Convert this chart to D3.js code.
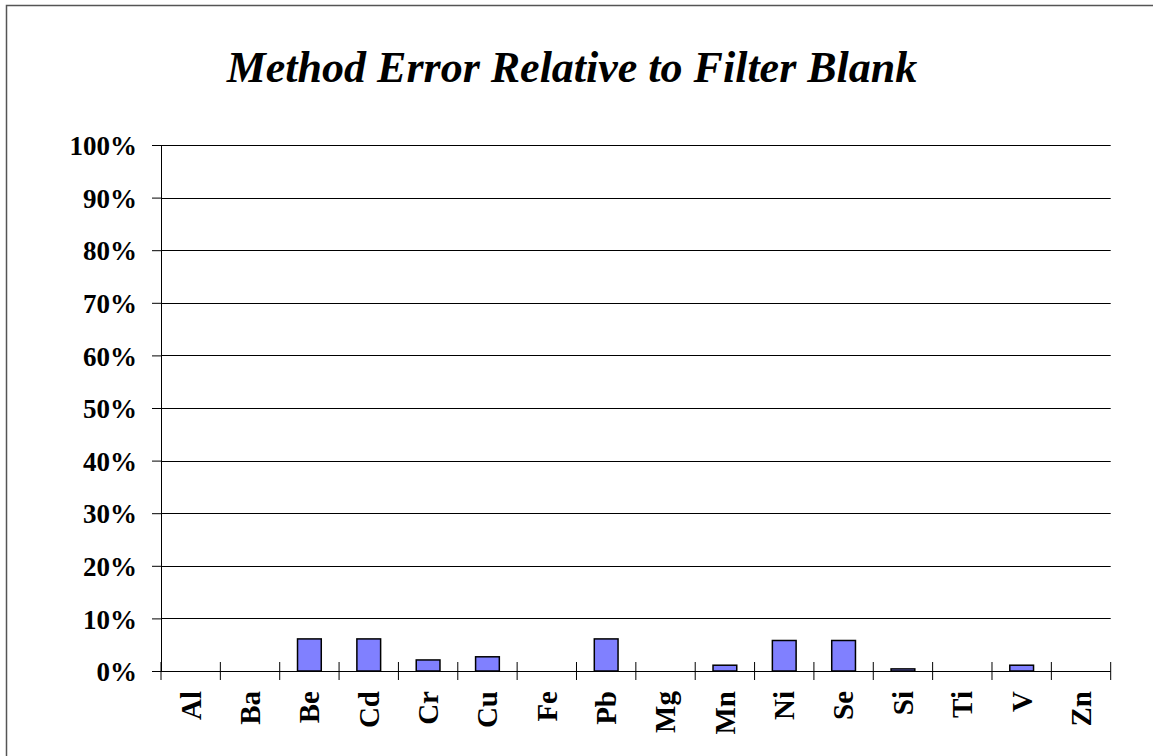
<!DOCTYPE html>
<html>
<head>
<meta charset="utf-8">
<script src="https://cdn.jsdelivr.net/npm/d3@7"></script>
<style>
  html, body { margin: 0; padding: 0; background: #fff; }
  svg { display: block; }
  text { font-family: "Liberation Serif", "Times New Roman", serif; font-weight: bold; fill: #000; }
</style>
</head>
<body>
<svg id="chart" width="1153" height="756"></svg>
<script>
// Elements measured and their method error, in percent
const elements = ["Al", "Ba", "Be", "Cd", "Cr", "Cu", "Fe", "Pb", "Mg", "Mn", "Ni", "Se", "Si", "Ti", "V", "Zn"];
const errorPct = [0, 0, 6.1, 6.1, 2.1, 2.7, 0, 6.1, 0, 1.1, 5.8, 5.8, 0.4, 0, 1.1, 0];
const yTicks = [0, 10, 20, 30, 40, 50, 60, 70, 80, 90, 100];
const titleText = "Method Error Relative to Filter Blank";

const svg = d3.select("#chart");
const plot = { left: 161, right: 1110.7, top: 145, bottom: 671 };

// outer frame
svg.append("rect")
  .attr("x", 6.5).attr("y", 5.5)
  .attr("width", 1160).attr("height", 760)
  .attr("fill", "none").attr("stroke", "#555").attr("stroke-width", 1.5);

svg.append("text")
  .attr("x", 572).attr("y", 82)
  .attr("text-anchor", "middle")
  .style("font-style", "italic")
  .style("font-size", "44px")
  .text(titleText);

const x = d3.scaleBand().domain(elements).range([plot.left, plot.right]).paddingInner(0).paddingOuter(0);
const y = d3.scaleLinear().domain([0, 100]).range([plot.bottom, plot.top]);

// horizontal gridlines
svg.append("g").selectAll("line").data(yTicks.filter(d => d > 0)).join("line")
  .attr("x1", plot.left).attr("x2", plot.right)
  .attr("y1", d => Math.round(y(d)) + 0.5).attr("y2", d => Math.round(y(d)) + 0.5)
  .attr("stroke", "#000").attr("stroke-width", 1);

// value axis
const yAxis = d3.axisLeft(y).tickValues(yTicks).tickFormat(d => d + "%").tickSize(9).tickPadding(15);
const gy = svg.append("g").attr("transform", `translate(${plot.left},0)`).call(yAxis);
gy.select(".domain").attr("stroke", "#000");
gy.selectAll(".tick line").attr("stroke", "#000");
gy.selectAll(".tick text")
  .attr("dy", "0.36em")
  .style("font-family", "'Liberation Serif', 'Times New Roman', serif")
  .style("font-weight", "bold")
  .style("font-size", "27px")
  .attr("fill", "#000");

// bars
const barW = x.bandwidth() * 0.4;
svg.append("g").selectAll("rect").data(elements.map((e, i) => ({ e, v: errorPct[i] })).filter(d => d.v > 0)).join("rect")
  .attr("x", d => x(d.e) + (x.bandwidth() - barW) / 2)
  .attr("width", barW)
  .attr("y", d => y(d.v))
  .attr("height", d => y(0) - y(d.v))
  .attr("fill", "#8080ff")
  .attr("stroke", "#000").attr("stroke-width", 1.5);

// category axis with ticks crossing the baseline between categories
const gx = svg.append("g");
gx.append("line")
  .attr("x1", plot.left).attr("x2", plot.right)
  .attr("y1", plot.bottom + 0.5).attr("y2", plot.bottom + 0.5)
  .attr("stroke", "#000");
const edges = elements.map(e => x(e)).concat([plot.right]);
gx.selectAll("line.tk").data(edges).join("line").attr("class", "tk")
  .attr("x1", d => d).attr("x2", d => d)
  .attr("y1", plot.bottom - 9).attr("y2", plot.bottom + 9)
  .attr("stroke", "#000");

gx.selectAll("text").data(elements).join("text")
  .attr("transform", d => `translate(${x(d) + x.bandwidth() / 2},${plot.bottom + 20}) rotate(-90)`)
  .attr("text-anchor", "end")
  .attr("dy", "0.34em")
  .style("font-size", "29px")
  .text(d => d);
</script>
</body>
</html>
